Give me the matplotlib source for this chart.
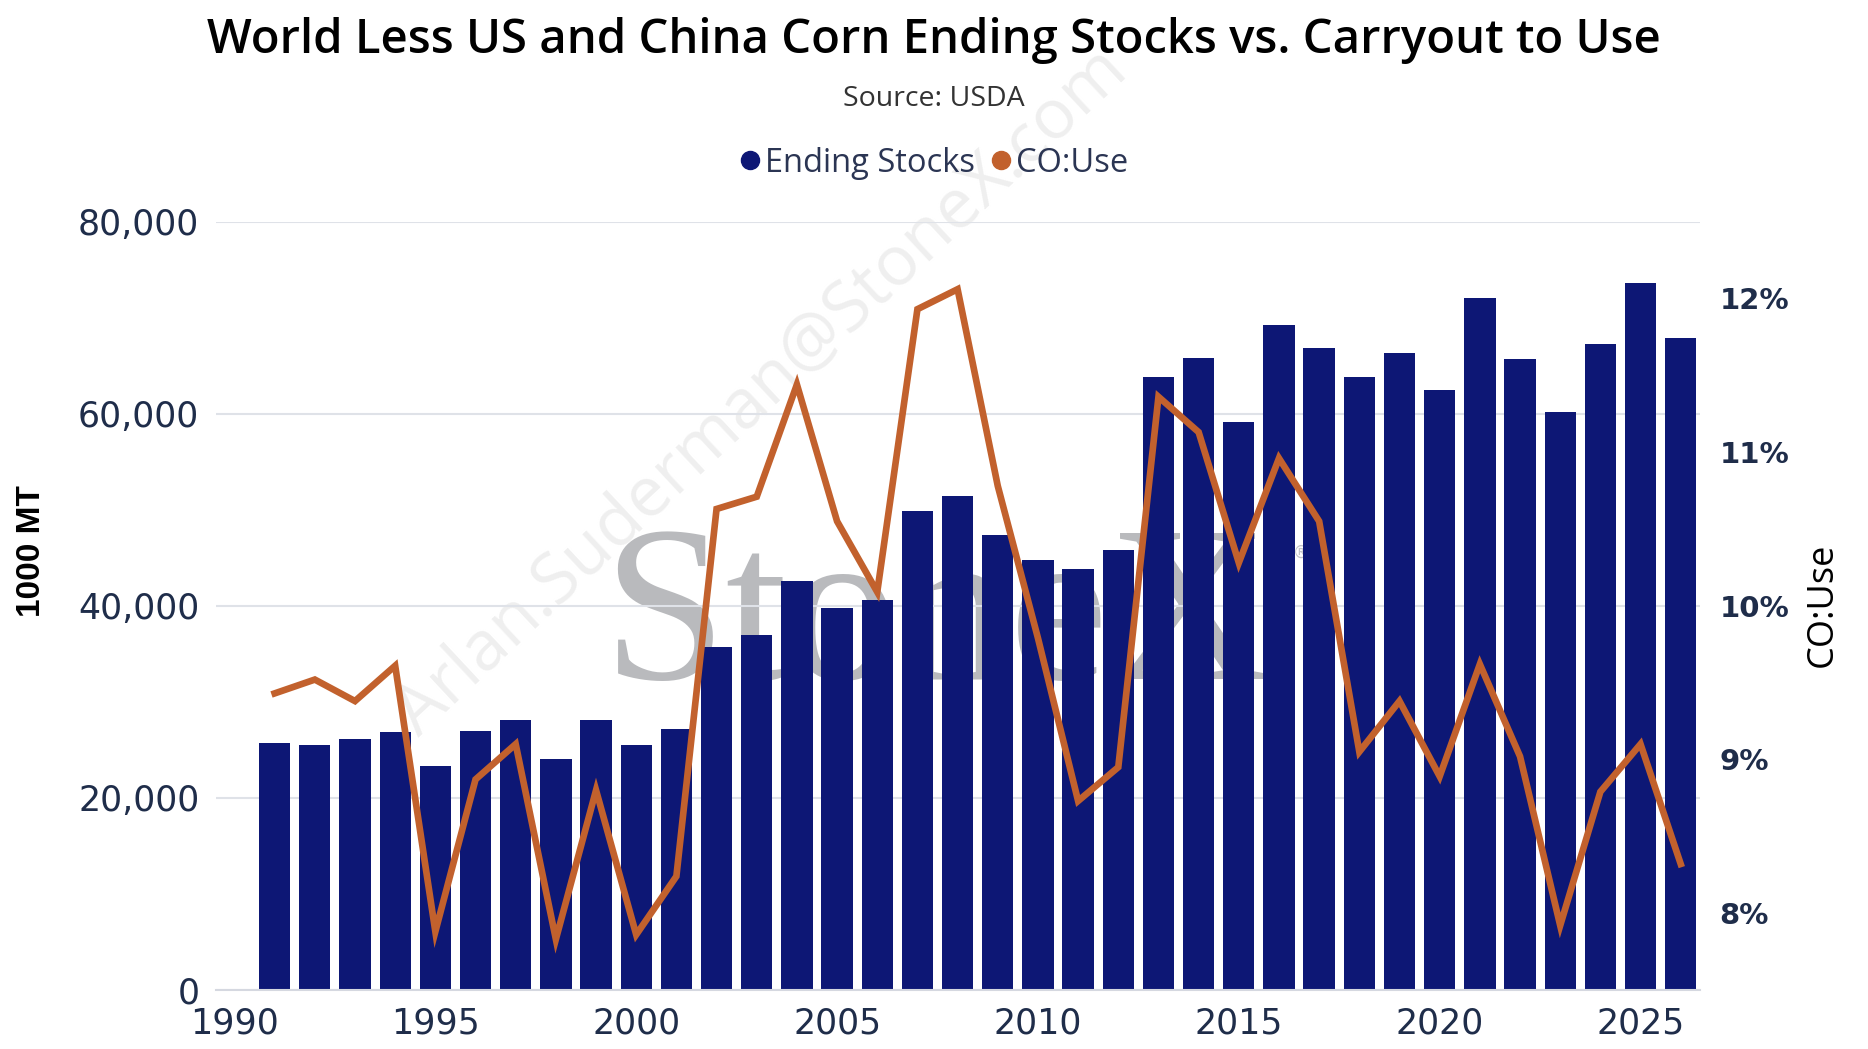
import matplotlib
matplotlib.use("Agg")
import matplotlib.pyplot as plt
from matplotlib.lines import Line2D
from matplotlib.ticker import FuncFormatter, MultipleLocator

# marketing years
years = list(range(1991, 2027))

# world less US and China corn ending stocks (1000 MT)
ending_stocks = [25670, 25500, 26120, 26910, 23300, 26970, 28150, 24090, 28100, 25500,
                 27140, 35710, 36950, 42540, 39770, 40620, 49820, 51400, 47390, 44800,
                 43840, 45810, 63810, 65780, 59180, 69220, 66850, 63810, 66350, 62510,
                 72040, 65670, 60200, 67250, 73570, 67870]

# carryout to use (%)
co_use = [9.43, 9.52, 9.38, 9.61, 7.88, 8.87, 9.10, 7.83, 8.80, 7.86,
          8.24, 10.63, 10.71, 11.44, 10.55, 10.09, 11.93, 12.06, 10.78, 9.79,
          8.73, 8.95, 11.36, 11.13, 10.28, 10.96, 10.55, 9.05, 9.38, 8.89,
          9.62, 9.02, 7.92, 8.79, 9.10, 8.32]

bar_color = '#0d1775'
line_color = '#c2612d'
tick_color = '#1f2d4a'
W, H = 1868, 1049

fig = plt.figure(figsize=(W / 100, H / 100), dpi=100)
fig.patch.set_facecolor('white')

# watermarks behind the axes
fig.text(935 / W, 1 - 625 / H, 'StoneX', family='Liberation Serif', fontsize=160,
         color='#b9babd', ha='center', va='center', zorder=-2)
fig.text(1301 / W, 1 - 553 / H, '®', fontsize=12, color='#c4c5c8',
         ha='center', va='center', zorder=-2)
fig.text(762 / W, 1 - 393 / H, 'Arlan.Suderman@StoneX.com', family='Open Sans',
         fontsize=50, color='#efefef', rotation=43, ha='center', va='center', zorder=-2)

ax1 = fig.add_axes([216 / W, 1 - 990 / H, (1700 - 216) / W, (990 - 221.6) / H])
ax2 = ax1.twinx()
ax1.patch.set_visible(False)
ax2.patch.set_visible(False)

# bars: ending stocks
ax1.bar(years, ending_stocks, width=0.78, color=bar_color, zorder=2)
ax1.set_ylim(0, 80000)
ax1.set_xlim(1989.54, 2026.48)
ax1.yaxis.set_major_locator(MultipleLocator(20000))
ax1.yaxis.set_major_formatter(FuncFormatter(lambda v, p: f'{v:,.0f}'))
ax1.xaxis.set_major_locator(MultipleLocator(5))
ax1.grid(axis='y', color='#dfe2e8', linewidth=1.5, zorder=0.5)
ax1.set_axisbelow(True)

# line: carryout to use
ax2.plot(years, co_use, color=line_color, linewidth=4.8, solid_joinstyle='miter', zorder=3)
ax2.set_ylim(7.5, 12.5)
ax2.yaxis.set_major_locator(MultipleLocator(1))
ax2.yaxis.set_major_formatter(FuncFormatter(lambda v, p: f'{v:.0f}%'))

for ax in (ax1, ax2):
    for s in ax.spines.values():
        s.set_visible(False)
ax1.spines['bottom'].set_visible(True)
ax1.spines['bottom'].set_color('#d5d8e0')
ax1.spines['bottom'].set_linewidth(1.5)

ax1.tick_params(axis='y', length=0, pad=12, labelsize=25, labelcolor=tick_color)
ax1.tick_params(axis='x', length=0, pad=12, labelsize=25, labelcolor=tick_color)
ax2.tick_params(axis='y', length=0, pad=14, labelsize=21, labelcolor=tick_color)
for lab in ax2.get_yticklabels():
    lab.set_fontweight('bold')

# axis titles
fig.text(32 / W, 1 - 551 / H, '1000 MT', family='Liberation Sans', fontweight='bold',
         fontsize=24, rotation=90, ha='center', va='center', color='black')
fig.text(1823 / W, 1 - 605 / H, 'CO:Use', family='Open Sans', fontsize=26,
         rotation=90, ha='center', va='center', color='black')

# title, subtitle, legend
fig.text(0.5, 1 - 40 / H, 'World Less US and China Corn Ending Stocks vs. Carryout to Use',
         family='Open Sans', fontweight='semibold', fontsize=34, ha='center', va='center',
         color='black')
fig.text(0.5, 1 - 99 / H, 'Source: USDA', family='Open Sans', fontsize=20.5,
         ha='center', va='center', color='#333333')

handles = [Line2D([], [], marker='o', linestyle='none', markersize=13, color=bar_color),
           Line2D([], [], marker='o', linestyle='none', markersize=13, color=line_color)]
fig.legend(handles, ['Ending Stocks', 'CO:Use'], loc='center', ncol=2,
           bbox_to_anchor=(0.5, 1 - 163 / H), frameon=False, handlelength=0.6,
           handletextpad=0.15, columnspacing=0.5, labelcolor='#2b3553',
           prop={'family': 'Open Sans', 'size': 23.5})

fig.savefig('out.png', dpi=100, facecolor='white')
